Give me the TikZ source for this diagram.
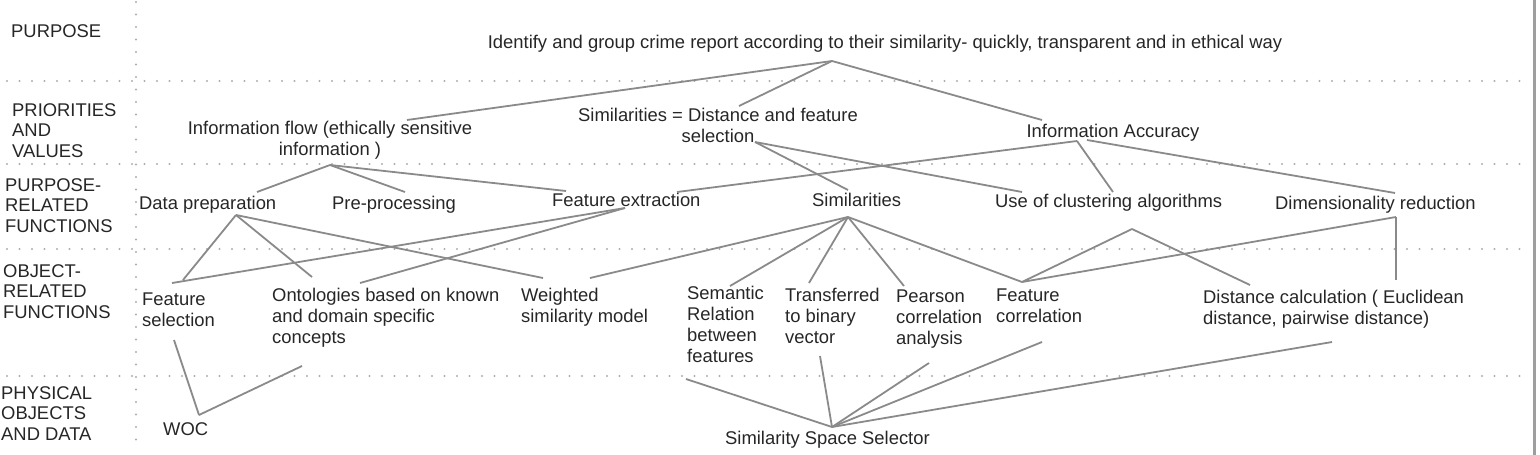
\documentclass[tikz,border=0pt]{standalone}
\usepackage{fontspec}
\setmainfont{Liberation Sans}
\tikzset{
  txt/.style={inner sep=0pt, font=\fontsize{18.4}{21}\selectfont, text=black!85, execute at begin node=\strut},
  lft/.style={txt, anchor=north west, align=left},
  ctr/.style={txt, anchor=north, align=center},
  rowlbl/.style={txt, anchor=north west, align=left, font=\fontsize{18.4}{20.5}\selectfont},
  dotline/.style={draw=black!32, line width=2.2pt, line cap=round, dash pattern=on 0pt off 12.5pt},
  frameline/.style={draw=black!38, line width=3pt},
  link/.style={draw=black!46, line width=1.8pt},
}
\begin{document}
\begin{tikzpicture}[x=1pt,y=-1pt]
\useasboundingbox (0,0) rectangle (1540,455);
% grid
\foreach \yy in {81,164,249,376} \draw[dotline] (7,\yy) -- (1530,\yy);
\draw[dotline] (136,2) -- (136,450);
\draw[frameline] (1534,0) -- (1534,455);
% row labels
\node[rowlbl] (l1) at (11,23.3) {PURPOSE};
\node[rowlbl] (l2) at (12,103.3) {PRIORITIES\\AND\\VALUES};
\node[rowlbl] (l3) at (5,178.3) {PURPOSE-\\RELATED\\FUNCTIONS};
\node[rowlbl] (l4) at (3,264.3) {OBJECT-\\RELATED\\FUNCTIONS};
\node[rowlbl] (l5) at (1,386.3) {PHYSICAL\\OBJECTS\\AND DATA};
% nodes
\node[ctr] (title) at (885,33.3) {Identify and group crime report according to their similarity- quickly, transparent and in ethical way};
\node[ctr] (infoflow) at (330,121.3) {Information flow (ethically sensitive\\information )};
\node[ctr] (simeq) at (718,108.3) {Similarities = Distance and feature\\selection};
\node[ctr] (infoacc) at (1113,122.3) {Information Accuracy};
\node[lft] (dataprep) at (139,194.3) {Data preparation};
\node[lft] (preproc) at (332,194.3) {Pre-processing};
\node[lft] (featext) at (552,191.3) {Feature extraction};
\node[lft] (simil) at (812,191.3) {Similarities};
\node[lft] (useclust) at (995,192.3) {Use of clustering algorithms};
\node[lft] (dimred) at (1275,194.3) {Dimensionality reduction};
\node[lft] (featsel) at (142,292.3) {Feature\\selection};
\node[lft] (onto) at (272,288.3) {Ontologies based on known\\and domain specific\\concepts};
\node[lft] (weighted) at (521,288.3) {Weighted\\similarity model};
\node[lft] (semantic) at (687,286.3) {Semantic\\Relation\\between\\features};
\node[lft] (transf) at (785,288.3) {Transferred\\to binary\\vector};
\node[lft] (pearson) at (896,289.3) {Pearson\\correlation\\analysis};
\node[lft] (featcorr) at (996,288.3) {Feature\\correlation};
\node[lft] (distcalc) at (1203,290.3) {Distance calculation ( Euclidean\\distance, pairwise distance)};
\node[lft] (woc) at (163,420.3) {WOC};
\node[lft] (sss) at (725,429.3) {Similarity Space Selector};
% connector points
\coordinate (t-hub) at (832,61);
\coordinate (if-t) at (407,120);
\coordinate (se-t) at (739,106);
\coordinate (ia-t) at (1042,120);
\coordinate (if-b) at (330,165);
\coordinate (dp-t) at (257,192);
\coordinate (pp-t) at (405,192);
\coordinate (fe-tl) at (566,191);
\coordinate (se-b) at (755,142);
\coordinate (si-t) at (848,190);
\coordinate (uc-tl) at (1022,192);
\coordinate (ia-b) at (1077,141);
\coordinate (fe-tr) at (677,192);
\coordinate (uc-t) at (1113,192);
\coordinate (ia-b2) at (1087,140);
\coordinate (dr-t) at (1395,193);
\coordinate (dp-b) at (236,215);
\coordinate (fs-t1) at (183,280);
\coordinate (on-t1) at (312,277);
\coordinate (ws-t1) at (543,278);
\coordinate (fe-b) at (625,208);
\coordinate (fs-t2) at (172,283);
\coordinate (on-t2) at (360,283);
\coordinate (si-b) at (848,217);
\coordinate (ws-t2) at (590,278);
\coordinate (sr-t) at (730,286);
\coordinate (tb-t) at (809,283);
\coordinate (pc-t) at (904,286);
\coordinate (fc-t) at (1022,282);
\coordinate (uc-b) at (1132,229);
\coordinate (dc-t) at (1250,285);
\coordinate (dr-b) at (1396,217);
\coordinate (dc-t2) at (1396,280);
\coordinate (fs-b) at (174,340);
\coordinate (on-b) at (302,366);
\coordinate (woc-t) at (199,415);
\coordinate (sss-t) at (832,427);
\coordinate (sr-b) at (686,379);
\coordinate (tb-b) at (820,356);
\coordinate (pc-b) at (929,363);
\coordinate (fc-b) at (1042,342);
\coordinate (dc-b) at (1332,342);
% connectors
\draw[link] (t-hub) -- (if-t);
\draw[link] (t-hub) -- (se-t);
\draw[link] (t-hub) -- (ia-t);
\draw[link] (if-b) -- (dp-t);
\draw[link] (if-b) -- (pp-t);
\draw[link] (if-b) -- (fe-tl);
\draw[link] (se-b) -- (si-t);
\draw[link] (se-b) -- (uc-tl);
\draw[link] (ia-b) -- (fe-tr);
\draw[link] (ia-b) -- (uc-t);
\draw[link] (ia-b2) -- (dr-t);
\draw[link] (dp-b) -- (fs-t1);
\draw[link] (dp-b) -- (on-t1);
\draw[link] (dp-b) -- (ws-t1);
\draw[link] (fe-b) -- (fs-t2);
\draw[link] (fe-b) -- (on-t2);
\draw[link] (si-b) -- (ws-t2);
\draw[link] (si-b) -- (sr-t);
\draw[link] (si-b) -- (tb-t);
\draw[link] (si-b) -- (pc-t);
\draw[link] (si-b) -- (fc-t);
\draw[link] (uc-b) -- (fc-t);
\draw[link] (uc-b) -- (dc-t);
\draw[link] (dr-b) -- (fc-t);
\draw[link] (dr-b) -- (dc-t2);
\draw[link] (fs-b) -- (woc-t);
\draw[link] (on-b) -- (woc-t);
\draw[link] (sr-b) -- (sss-t);
\draw[link] (tb-b) -- (sss-t);
\draw[link] (pc-b) -- (sss-t);
\draw[link] (fc-b) -- (sss-t);
\draw[link] (dc-b) -- (sss-t);
\end{tikzpicture}
\end{document}
